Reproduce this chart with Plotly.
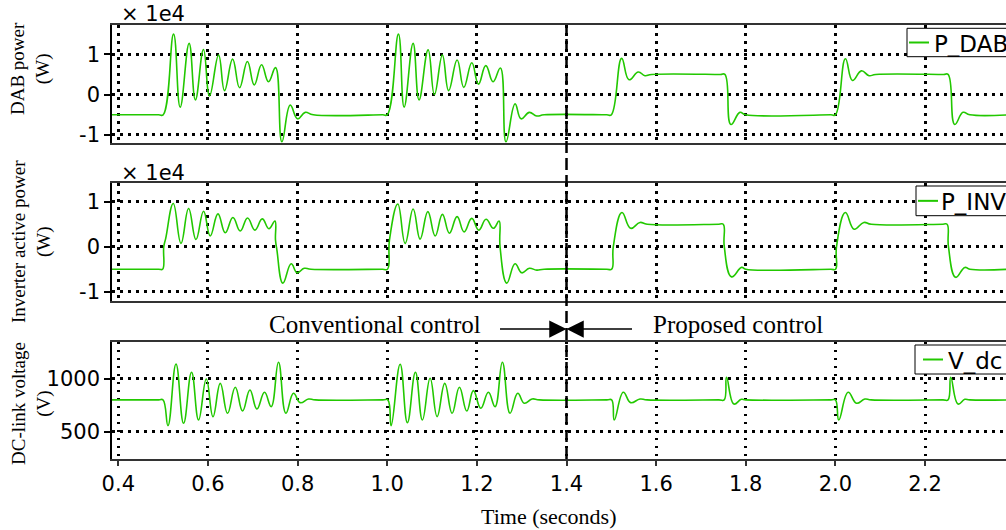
import plotly.graph_objects as go

# ---------------- data ----------------
# DAB power [W]
dab_time = [0.38, 0.49, 0.500, 0.5233, 0.538, 0.558, 0.572, 0.590, 0.6036, 0.6237, 0.637, 0.655, 0.6705,
            0.688, 0.7033, 0.7196, 0.735, 0.7508, 0.765, 0.7835, 0.800, 0.817, 0.835,
            0.99, 1.000, 1.025, 1.0377, 1.0577, 1.071, 1.0912, 1.1053, 1.123, 1.137, 1.156, 1.1708, 1.1887,
            1.2035, 1.2199, 1.2362, 1.2525, 1.265, 1.2852, 1.2985, 1.317, 1.3335, 1.35,
            1.49, 1.500, 1.523, 1.5394, 1.5601, 1.575, 1.59,
            1.743, 1.7534, 1.7668, 1.7869, 1.80,
            1.99, 2.000, 2.0223, 2.038, 2.058, 2.075, 2.09,
            2.241, 2.2514, 2.2662, 2.2847, 2.30, 2.39]
dab_power = [-5000, -5000, -5000, 15000, -3100, 12700, -1300, 11200, -300, 9800, 1000, 8800, 1700,
             8200, 2400, 7400, 3200, 6700, -11700, -2600, -6000, -4400, -5000,
             -5000, -5000, 15000, -3100, 12700, -1300, 11100, 0, 9800, 1000, 8600, 1800, 7900,
             2600, 7200, 3200, 6600, -11700, -2300, -6000, -4400, -5300, -5000,
             -5000, -5000, 9000, 3700, 5600, 4700, 5000,
             5000, 5000, -7400, -4400, -5000,
             -5000, -5000, 8900, 3500, 5900, 4700, 5000,
             5000, 5000, -7400, -4400, -5000, -5000]

# Inverter active power [W]
inv_time = [0.38, 0.49, 0.4988, 0.5014, 0.5059, 0.5226, 0.5398, 0.5568, 0.5732, 0.5902, 0.605, 0.6223,
            0.6386, 0.6557, 0.672, 0.6883, 0.7048, 0.7211, 0.736, 0.7494, 0.7507, 0.7538, 0.7672,
            0.7857, 0.799, 0.8147, 0.83,
            0.99, 1.0005, 1.005, 1.0236, 1.04, 1.0578, 1.0734, 1.0906, 1.1069, 1.1231, 1.1387, 1.1559,
            1.1715, 1.1886, 1.2042, 1.2205, 1.2368, 1.2495, 1.2517, 1.2667, 1.2852, 1.3001, 1.317,
            1.3335, 1.35,
            1.49, 1.5008, 1.5044, 1.5237, 1.5431, 1.5639, 1.58,
            1.74, 1.7497, 1.752, 1.7683, 1.7906, 1.80,
            1.99, 2.0002, 2.0024, 2.0223, 2.0417, 2.0633, 2.08,
            2.24, 2.2491, 2.2522, 2.2684, 2.2886, 2.30, 2.39]
inv_power = [-5000, -5000, -5000, 0, 1900, 9600, 750, 8500, 1600, 7900, 2400, 7300,
             3100, 6500, 3500, 6400, 3700, 6200, 4000, 5700, 1500, -700, -8100,
             -3800, -5800, -4800, -5000,
             -5000, -5000, 1500, 9500, 750, 8400, 1700, 7800, 2400, 7200, 3000, 6700,
             3300, 6300, 3700, 6100, 4100, 5700, 0, -8100, -3800, -5800, -4800,
             -5200, -5000,
             -5000, -5000, 0, 7600, 4100, 5400, 5000,
             5000, 5000, 0, -6700, -4600, -5000,
             -5000, -5000, 0, 7600, 3900, 5400, 5000,
             5000, 5000, 0, -6800, -4600, -5000, -5000]

# DC-link voltage [V]
vdc_time = [0.38, 0.49, 0.4997, 0.5108, 0.5287, 0.5456, 0.5634, 0.5791, 0.5963, 0.6112, 0.6275, 0.6437,
            0.6609, 0.6772, 0.6936, 0.7092, 0.7262, 0.7411, 0.7574, 0.7738, 0.7909, 0.8058, 0.8243, 0.84,
            0.99, 1.0013, 1.0087, 1.0288, 1.045, 1.0629, 1.0785, 1.0957, 1.1113, 1.1284, 1.1447, 1.161,
            1.1775, 1.1922, 1.2087, 1.2257, 1.2406, 1.2569, 1.274, 1.2912, 1.3059, 1.3231, 1.34,
            1.49, 1.5008, 1.5066, 1.5267, 1.5431, 1.5639, 1.58,
            1.74, 1.7518, 1.7571, 1.7734, 1.79, 1.80,
            1.99, 2.000, 2.0075, 2.0283, 2.047, 2.0656, 2.08,
            2.24, 2.2513, 2.2573, 2.2736, 2.2886, 2.30, 2.39]
vdc_volt = [800, 800, 800, 557, 1139, 579, 1060, 610, 997, 642, 956, 674,
            919, 695, 893, 714, 872, 736, 1155, 674, 862, 774, 808, 800,
            800, 800, 557, 1136, 585, 1060, 610, 1004, 642, 956, 674, 919,
            695, 887, 721, 872, 736, 1155, 674, 862, 768, 808, 800,
            800, 800, 610, 872, 774, 808, 800,
            800, 800, 1013, 761, 805, 800,
            800, 800, 610, 872, 768, 808, 800,
            800, 800, 1013, 761, 805, 800, 800]

x_ticks = [0.4, 0.6, 0.8, 1.0, 1.2, 1.4, 1.6, 1.8, 2.0, 2.2]
x_ticktext = ["0.4", "0.6", "0.8", "1.0", "1.2", "1.4", "1.6", "1.8", "2.0", "2.2"]
p_ticks = [-10000, 0, 10000]
p_ticktext = ["-1", "0", "1"]
v_ticks = [500, 1000]
v_ticktext = ["500", "1000"]
switch_time = 1.4

# ---------------- styling ----------------
W, H = 1006, 530
GREEN = "#22c800"
SANS = "DejaVu Sans"
SERIF = "Liberation Serif"


def fx(p):
    return p / W


def fy(p):
    return 1 - p / H


fig = go.Figure()
series = [("P_DAB", dab_time, dab_power, "x", "y"),
          ("P_INV", inv_time, inv_power, "x2", "y2"),
          ("V_dc", vdc_time, vdc_volt, "x3", "y3")]
for name, t, v, xa, ya in series:
    fig.add_trace(go.Scatter(x=t, y=v, name=name, mode="lines", xaxis=xa, yaxis=ya,
                             line=dict(color=GREEN, width=1.6, shape="spline", smoothing=1.25),
                             showlegend=False))

xrange = [0.3859, 2.3806]
grid = dict(showgrid=True, gridcolor="black", gridwidth=2.5, griddash="2.5px,5.5px", zeroline=False)
xdom = [fx(112), 1.0]
common_x = dict(range=xrange, domain=xdom, tickvals=x_ticks, ticktext=x_ticktext,
                showline=True, linecolor="#333", linewidth=1.5, mirror=True, **grid)

ydoms = [[fy(143), fy(25)], [fy(300.7), fy(183.3)], [fy(459), fy(341.7)]]
yranges = [[-12000, 17270], [-12000, 14100], [242, 1349]]
ytv = [(p_ticks, p_ticktext), (p_ticks, p_ticktext), (v_ticks, v_ticktext)]

layout = dict(width=W, height=H, paper_bgcolor="white", plot_bgcolor="white",
              margin=dict(l=0, r=0, t=0, b=0, autoexpand=False), showlegend=False,
              font=dict(family=SANS, color="black"))
for i in range(3):
    sx = "" if i == 0 else str(i + 1)
    xa = dict(common_x)
    if i < 2:
        xa.update(showticklabels=False, ticks="", anchor="y" + sx, matches="x3")
    else:
        xa.update(showticklabels=True, ticks="outside", ticklen=5, tickcolor="#333", tickwidth=1.5,
                  tickfont=dict(family=SANS, size=21, color="black"), anchor="y3")
    layout["xaxis" + sx] = xa
    layout["yaxis" + sx] = dict(domain=ydoms[i], range=yranges[i], tickvals=ytv[i][0], ticktext=ytv[i][1],
                                showline=True, linecolor="black", linewidth=1.5, mirror=False,
                                ticks="outside", ticklen=6, tickcolor="black", tickwidth=1.5,
                                tickfont=dict(family=SANS, size=21, color="black"),
                                anchor="x" + sx, **grid)
fig.update_layout(**layout)

# vertical dashed switching line
fig.add_shape(type="line", xref="x3", yref="paper", x0=switch_time, x1=switch_time,
              y0=fy(459), y1=fy(25), line=dict(color="black", width=2.5, dash="12px,5px"), layer="above")

annotations = []
# y-axis titles
for text, yc in [("DAB power<br>(W)", 69), ("Inverter active power<br>(W)", 242),
                 ("DC-link voltage<br>(V)", 404)]:
    annotations.append(dict(text=text, xref="paper", yref="paper", x=fx(31), y=fy(yc), textangle=-90,
                            xanchor="center", yanchor="middle", showarrow=False,
                            font=dict(family=SERIF, size=19, color="black")))
# exponent labels
for yc in [14, 173]:
    annotations.append(dict(text="× 1e4", xref="paper", yref="paper", x=fx(119), y=fy(yc),
                            xanchor="left", yanchor="middle", showarrow=False,
                            font=dict(family=SANS, size=21, color="black")))
# x-axis title
annotations.append(dict(text="Time (seconds)", xref="paper", yref="paper", x=fx(548), y=fy(516),
                        xanchor="center", yanchor="middle", showarrow=False,
                        font=dict(family=SERIF, size=22, color="black")))
# control labels
annotations.append(dict(text="Conventional control", xref="paper", yref="paper", x=fx(483), y=fy(324),
                        xanchor="right", yanchor="middle", showarrow=False,
                        font=dict(family=SERIF, size=25, color="black")))
annotations.append(dict(text="Proposed control", xref="paper", yref="paper", x=fx(651), y=fy(324),
                        xanchor="left", yanchor="middle", showarrow=False,
                        font=dict(family=SERIF, size=25, color="black")))
# arrows
for ax in [-68, 67]:
    annotations.append(dict(text="", xref="x3", yref="paper", x=switch_time, y=fy(329), ax=ax, ay=0,
                            axref="pixel", ayref="pixel", showarrow=True, arrowhead=2, arrowsize=2.3,
                            arrowwidth=1.5, arrowcolor="black", standoff=0))

# legend boxes (drawn manually to match the clipped boxes of the original)
legend_specs = [("P_DAB", 907, 28.3, 56.7, 909, 931.5),
                ("P_INV", 916, 186, 215.7, 918, 939),
                ("V_dc", 915, 345, 374, 923, 946)]
for name, bx, top, bot, lx, tx in legend_specs:
    yc = (top + bot) / 2
    fig.add_shape(type="rect", xref="paper", yref="paper", x0=fx(bx), x1=fx(bx + 140), y0=fy(bot), y1=fy(top),
                  line=dict(color="black", width=1), fillcolor="white", layer="above")
    fig.add_shape(type="line", xref="paper", yref="paper", x0=fx(lx), x1=fx(lx + 20), y0=fy(yc), y1=fy(yc),
                  line=dict(color=GREEN, width=2), layer="above")
    annotations.append(dict(text=name, xref="paper", yref="paper", x=fx(tx), y=fy(yc + 1),
                            xanchor="left", yanchor="middle", showarrow=False,
                            font=dict(family=SANS, size=23, color="black")))

fig.update_layout(annotations=annotations)
fig.write_html("out.html")
